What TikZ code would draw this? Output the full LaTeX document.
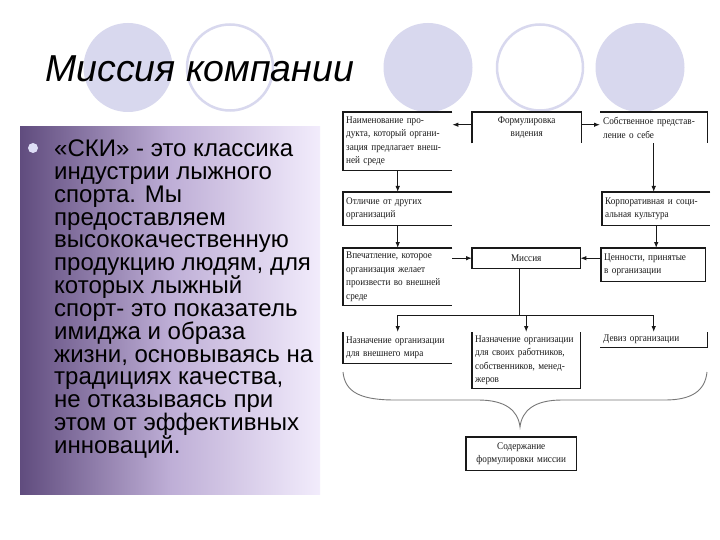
\documentclass[tikz,border=0pt]{standalone}
\usepackage{fontspec}
\setmainfont{Liberation Serif}
\newfontfamily\sansf{Liberation Sans}
\newfontfamily\boxf[FakeStretch=0.9]{Liberation Serif}
\usetikzlibrary{arrows.meta}
\definecolor{lav}{RGB}{216,216,238}
\definecolor{pdark}{RGB}{96,76,126}
\definecolor{pmid}{RGB}{190,174,214}
\definecolor{plight}{RGB}{242,236,252}
\definecolor{bul}{RGB}{222,222,246}
\definecolor{ink}{RGB}{25,25,25}
\definecolor{bracec}{RGB}{120,120,120}
\tikzset{
  boxtext/.style={inner sep=3pt, anchor=north west, align=left, text=ink,
    font=\boxf\fontsize{10.2}{13.5}\selectfont},
  ctext/.style={boxtext, align=center},
  edge/.style={draw=ink, line width=1.1pt},
  arr/.style={draw=ink, line width=0.9pt, -{Latex[length=6pt,width=4.5pt]}},
  ln/.style={draw=ink, line width=0.9pt},
}
\begin{document}
\begin{tikzpicture}[x=1pt,y=-1pt]
\useasboundingbox (0,0) rectangle (720,540);
\fill[white] (0,0) rectangle (720,540);
% decorative circles
\fill[lav] (128,67.5) circle (44.5);
\draw[lav, line width=2.5pt] (230,67.5) circle (43);
\fill[lav] (428,67.5) circle (44.5);
\draw[lav, line width=2.5pt] (540,67.5) circle (43);
\fill[lav] (640,67.5) circle (44.5);
% title
\node[anchor=base west, inner sep=0, font=\sansf\itshape\fontsize{37.5}{42}\selectfont] (title) at (45,82)
  {Миссия компании};
% left panel
\shade[left color=pdark, right color=plight, middle color=pmid] (20,127) rectangle (320,494);
\fill[bul] (33,148) circle (5);
\node[anchor=north west, inner sep=0, align=left,
      font=\sansf\fontsize{24}{22.85}\selectfont] (body) at (54,139.5)
  {«СКИ» - это классика\\
   индустрии лыжного\\
   спорта. Мы\\
   предоставляем\\
   высококачественную\\
   продукцию людям, для\\
   которых лыжный\\
   спорт- это показатель\\
   имиджа и образа\\
   жизни, основываясь на\\
   традициях качества,\\
   не отказываясь при\\
   этом от эффективных\\
   инноваций.};
% boxes
\node[boxtext, minimum width=109, minimum height=58, text width=103] (A) at (343,112)
  {Наименование про-\\дукта, который органи-\\зация предлагает внеш-\\ней среде};
\node[ctext, minimum width=109, minimum height=31, text width=103] (F) at (472,112)
  {Формулировка\\видения};
\node[boxtext, minimum width=107, minimum height=31, text width=101] (S) at (600,112)
  {Собственное представ-\\ление о себе};
\node[boxtext, minimum width=109, minimum height=33, text width=103] (O) at (343,192)
  {Отличие от других\\организаций};
\node[boxtext, minimum width=108, minimum height=33, text width=102] (K) at (602,192)
  {Корпоративная и соци-\\альная культура};
\node[boxtext, minimum width=109, minimum height=57, text width=103] (V) at (343,248)
  {Впечатление, которое\\организация желает\\произвести во внешней\\среде};
\node[ctext, minimum width=108, minimum height=20, text width=102] (M) at (472,248)
  {Миссия};
\node[boxtext, minimum width=104, minimum height=33, text width=98] (C) at (601,248)
  {Ценности, принятые\\в организации};
\node[boxtext, minimum width=109, minimum height=31, text width=103] (N1) at (343,332)
  {Назначение организации\\для внешнего мира};
\node[boxtext, minimum width=108, minimum height=56, text width=102] (N2) at (472,332)
  {Назначение организации\\для своих работников,\\собственников, менед-\\жеров};
\node[boxtext, minimum width=107, minimum height=15, text width=101] (D) at (600,332)
  {Девиз организации};
\node[ctext, minimum width=110, minimum height=33, text width=104] (Z) at (466,437)
  {Содержание\\формулировки миссии};
% visible box edges
\draw[edge] (A.north east) -- (A.north west) -- (A.south west) -- (A.south east);
\draw[edge] (F.south west) -- (F.north west) -- (F.north east) -- (F.south east);
\draw[edge] (S.north west) -- (S.north east) -- (S.south east);
\draw[edge] (O.north east) -- (O.north west) -- (O.south west) -- (O.south east);
\draw[edge] (K.north east) -- (K.north west) -- (K.south west) -- (K.south east);
\draw[edge] (V.north east) -- (V.north west) -- (V.south west) -- (V.south east);
\draw[edge] (M.north west) rectangle (M.south east);
\draw[edge] (C.north west) rectangle (C.south east);
\draw[edge] (N1.north west) -- (N1.south west) -- (N1.south east);
\draw[edge] (N2.north west) -- (N2.south west) -- (N2.south east) -- (N2.north east);
\draw[edge] (D.south west) -- (D.south east) -- (D.north east);
\draw[edge] (Z.north west) rectangle (Z.south east);
% connectors
\draw[arr] ([yshift=3pt]F.west) -- ([yshift=3pt]A.east |- F.west);
\draw[arr] ([yshift=3pt]F.east) -- ([yshift=3pt]S.west |- F.east);
\draw[arr] (A.south) -- (O.north);
\draw[arr] (O.south) -- (V.north);
\draw[arr] (S.south) -- (S.south |- K.north);
\draw[arr] (K.south) -- (K.south |- C.north);
\draw[arr] (V.east |- M.west) -- (M.west);
\draw[arr] (C.west |- M.east) -- (M.east);
\coordinate (j) at (519,315);
\draw[ln] (M.south -| j) -- (j);
\draw[ln] (N1.north |- j) -- (D.north |- j);
\draw[arr] (N1.north |- j) -- (N1.north);
\draw[arr] (N2.north |- j) -- (N2.north);
\draw[arr] (D.north |- j) -- (D.north);
% brace
\draw[bracec, line width=0.9pt]
  (343,372) .. controls (345,392) and (360,400) .. (395,400)
  -- (478,400) .. controls (505,400) and (518,410) .. (520,427)
  .. controls (522,410) and (535,400) .. (562,400)
  -- (665,400) .. controls (690,400) and (705,392) .. (707,372);
\end{tikzpicture}
\end{document}
